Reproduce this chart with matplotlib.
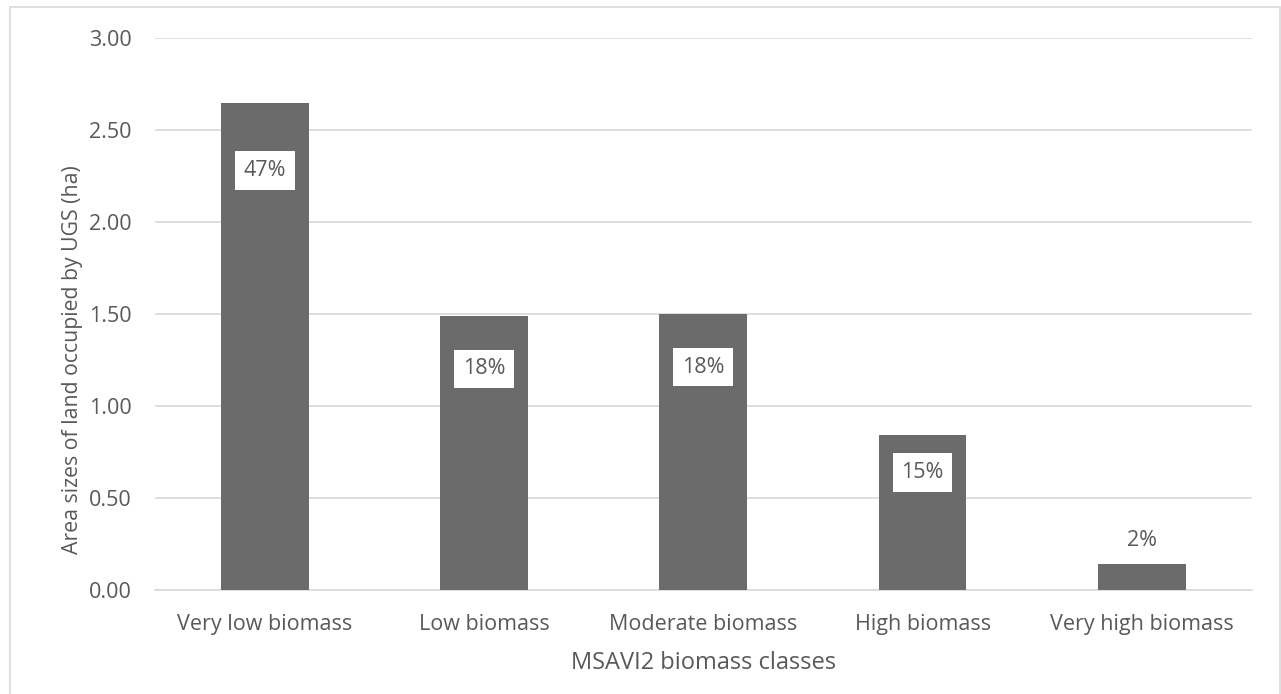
import matplotlib.pyplot as plt
from matplotlib.patches import Rectangle

# ---------data-------------------
classes = ["Very low biomass", "Low biomass", "Moderate biomass",
           "High biomass", "Very high biomass"]
area_ha = [2.65, 1.49, 1.50, 0.84, 0.14]
share_labels = ["47%", "18%", "18%", "15%", "2%"]
# --------------------------------

plt.rcParams["font.family"] = ["Open Sans", "DejaVu Sans"]
text_col = "#595959"

fig = plt.figure(figsize=(12.81, 6.94), dpi=100)
ax = fig.add_axes([0.121, 0.150, 0.856, 0.795])

# 枠線（図全体）
fig.patches.append(Rectangle((10 / 1281, -0.01), 1270 / 1281, 1 - 7 / 694 + 0.01,
                             transform=fig.transFigure, fill=False,
                             edgecolor="#d9d9d9", linewidth=1.2))

x = range(len(classes))
bars = ax.bar(x, area_ha, width=0.4, color="#6b6b6b", zorder=3)

# ラベル位置（棒の上端からのオフセット, px）
offsets = [-68, -53, -53, -37, 24]
for rect, lab, off in zip(bars, share_labels, offsets):
    cx = rect.get_x() + rect.get_width() / 2
    top = rect.get_height()
    box = dict(boxstyle="square,pad=0.4", fc="white", ec="none") if off < 0 else None
    ax.annotate(lab, (cx, top), xytext=(0, off * 0.72), textcoords="offset points",
                ha="center", va="center", fontsize=15.5, color=text_col, zorder=4,
                bbox=box)

ax.set_xlim(-0.5, 4.5)
ax.set_ylim(0, 3)
ax.set_yticks([0, 0.5, 1.0, 1.5, 2.0, 2.5, 3.0])
ax.set_yticklabels([f"{v:.2f}" for v in [0, 0.5, 1.0, 1.5, 2.0, 2.5, 3.0]])
ax.set_xticks(list(x))
ax.set_xticklabels(classes)
ax.grid(axis="y", color="#d9d9d9", linewidth=1.2, zorder=0)
for s in ["top", "right", "left"]:
    ax.spines[s].set_visible(False)
ax.spines["bottom"].set_color("#d9d9d9")
ax.spines["bottom"].set_linewidth(1.2)
ax.tick_params(axis="both", length=0, labelsize=15.5, labelcolor=text_col)
ax.tick_params(axis="y", pad=17)
ax.tick_params(axis="x", pad=17)

ax.set_xlabel("MSAVI2 biomass classes", fontsize=17, color=text_col, labelpad=12)
ax.set_ylabel("Area sizes of land occupied by UGS (ha)", fontsize=15.3, color=text_col)
ax.yaxis.set_label_coords(-0.066, 0.418)

fig.savefig("out.png", dpi=100)
